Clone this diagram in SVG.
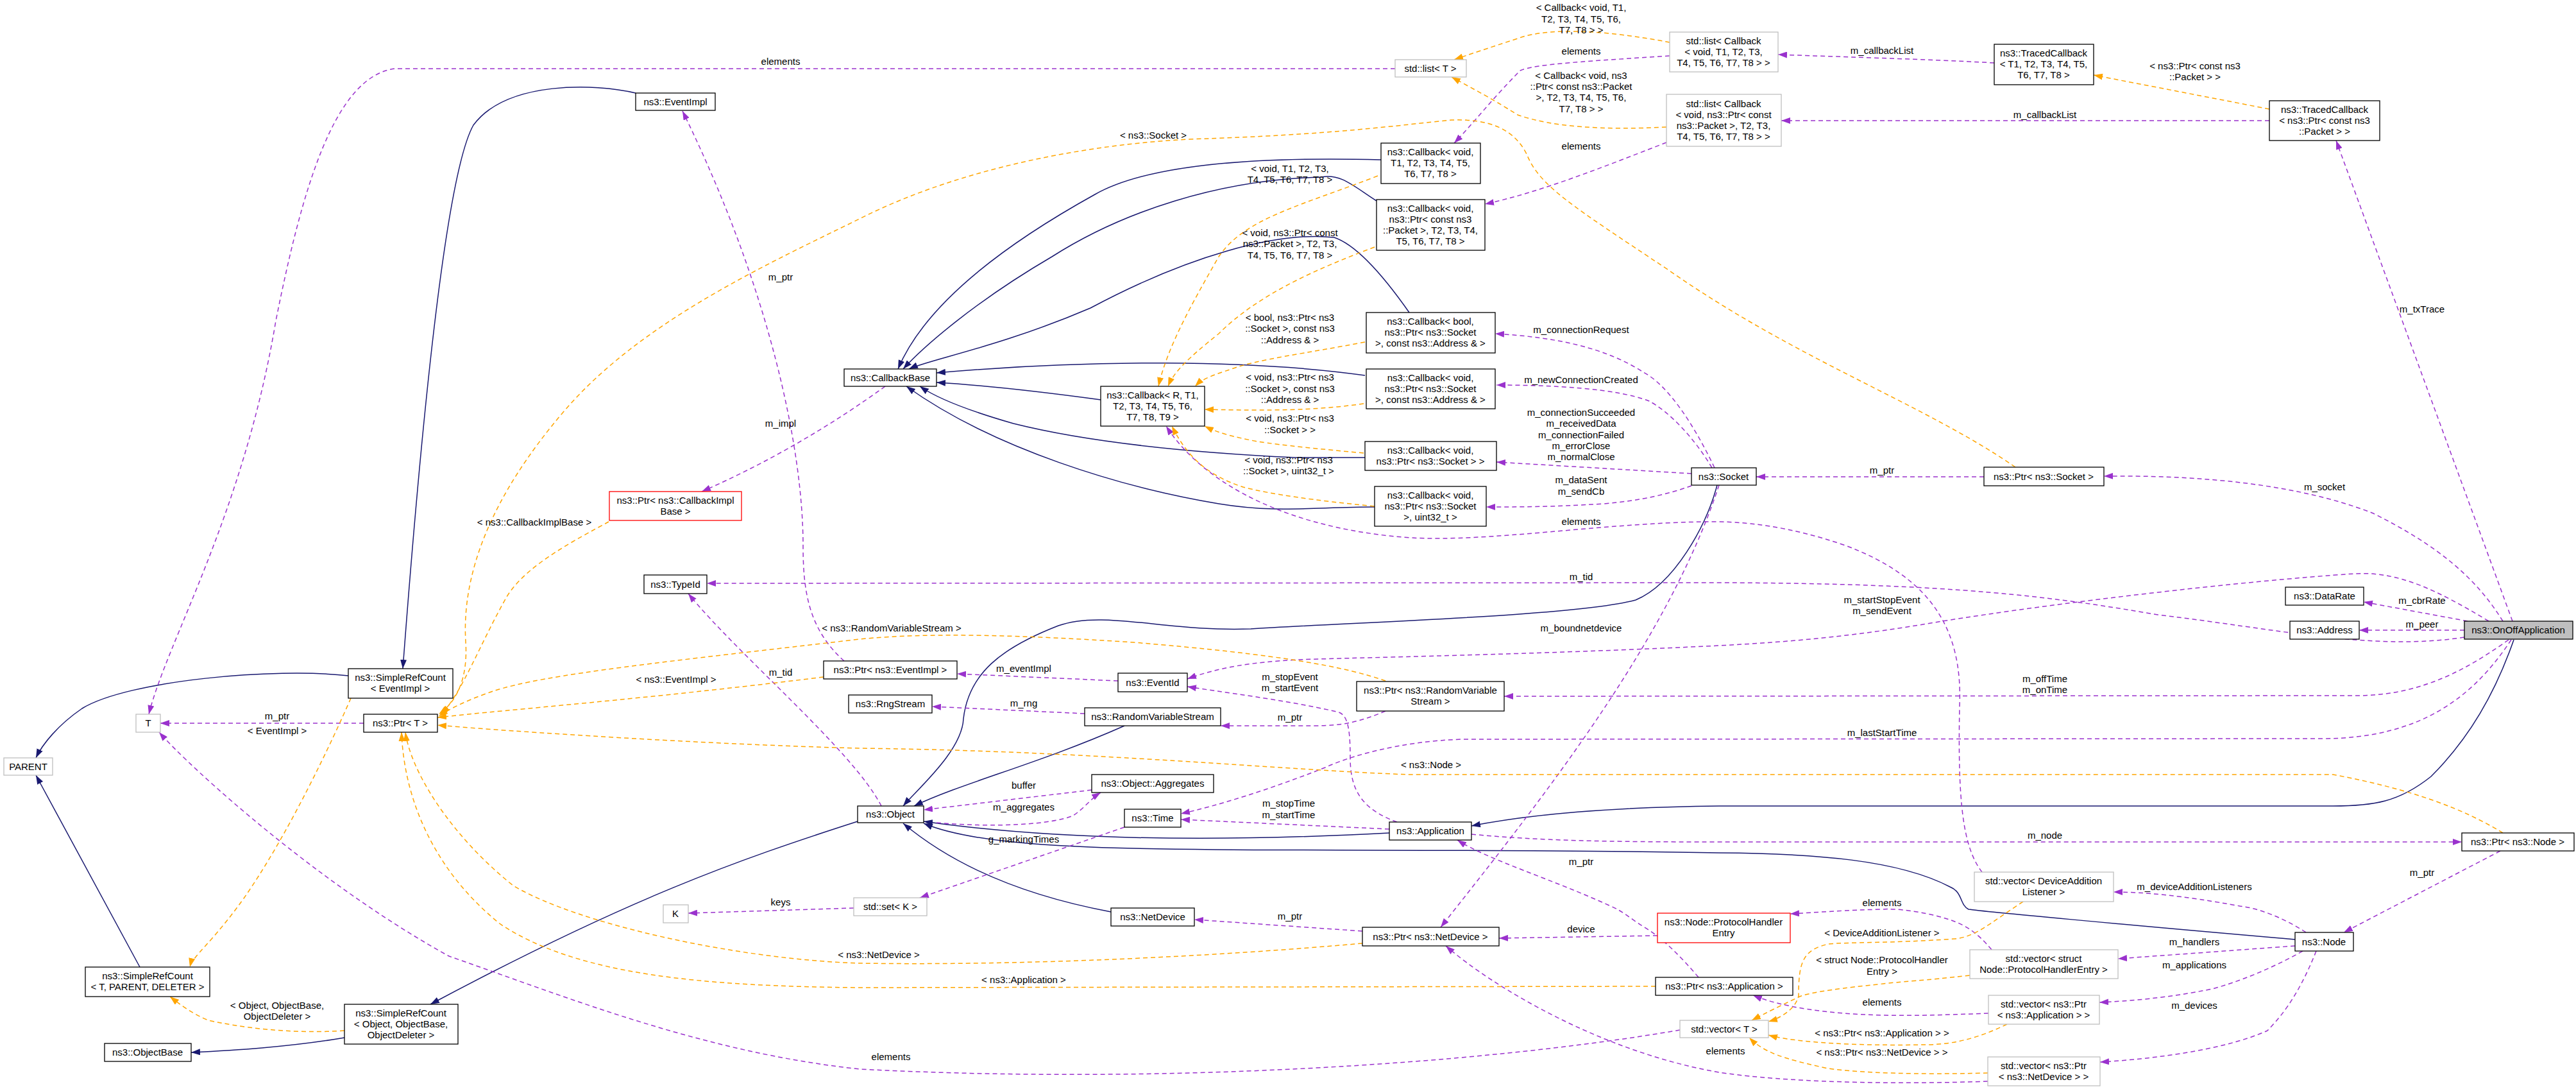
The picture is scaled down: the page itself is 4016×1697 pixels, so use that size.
<svg xmlns="http://www.w3.org/2000/svg" width="4016" height="1697" viewBox="0 0 4016 1697">
<defs>
<style>
text{font-family:"Liberation Sans",Arial,sans-serif;font-size:15px;fill:#000;text-anchor:middle}
.n rect{fill:#fff;stroke:#000;stroke-width:1.3}
.g rect{fill:#fff;stroke:#bfbfbf;stroke-width:1.3}
.r rect{fill:#fff;stroke:#ff0000;stroke-width:1.3}
.f rect{fill:#bfbfbf;stroke:#000;stroke-width:1.3}
.inh{fill:none;stroke:#191970;stroke-width:1.5;marker-end:url(#ab)}
.use{fill:none;stroke:#9a32cd;stroke-width:1.5;stroke-dasharray:7,5;marker-end:url(#ap)}
.tpl{fill:none;stroke:#ffa500;stroke-width:1.5;stroke-dasharray:7,5;marker-end:url(#ao)}
</style>
<marker id="ab" markerUnits="userSpaceOnUse" markerWidth="14" markerHeight="10" refX="14" refY="5" orient="auto"><path d="M0,0L14,5L0,10z" fill="#191970"/></marker>
<marker id="ap" markerUnits="userSpaceOnUse" markerWidth="14" markerHeight="10" refX="14" refY="5" orient="auto"><path d="M0,0L14,5L0,10z" fill="#9a32cd"/></marker>
<marker id="ao" markerUnits="userSpaceOnUse" markerWidth="14" markerHeight="10" refX="14" refY="5" orient="auto"><path d="M0,0L14,5L0,10z" fill="#ffa500"/></marker>
</defs>
<rect width="4016" height="1697" fill="#fff"/>
<g id="connectors">
<path class="inh" d="M991,145 C930,130 790,125 738,195 C690,280 650,750 628,1042"/>
<path class="inh" d="M543,1053 C430,1040 200,1060 128,1104 C90,1130 66,1160 56,1181"/>
<path class="inh" d="M218,1507 L56,1208"/>
<path class="inh" d="M537,1617 C450,1632 360,1637 298,1640"/>
<path class="inh" d="M1337,1280 C1150,1340 980,1400 671,1565"/>
<path class="inh" d="M2153,249 C2000,245 1800,250 1707,303 C1550,390 1440,480 1400,575"/>
<path class="inh" d="M2146,313 C2110,290 2090,270 2060,276 C1900,280 1750,330 1640,400 C1520,470 1440,540 1408,575"/>
<path class="inh" d="M2197,487 C2150,420 2110,380 2080,370 C1990,360 1850,400 1700,480 C1560,540 1450,560 1417,575"/>
<path class="inh" d="M2128,585 C1950,560 1700,560 1460,581"/>
<path class="inh" d="M1716,623 C1620,610 1530,600 1460,596"/>
<path class="inh" d="M2128,713 L2020,713 C1850,705 1700,690 1580,660 C1510,640 1460,620 1434,602"/>
<path class="inh" d="M2143,790 C2050,790 1990,800 1900,785 C1750,760 1550,700 1413,602"/>
<path class="inh" d="M2677,756 C2660,820 2610,910 2550,935 C2460,960 2100,970 1950,980 C1820,985 1720,950 1650,975 C1560,1010 1510,1050 1502,1120 C1500,1170 1430,1230 1408,1256"/>
<path class="inh" d="M1753,1131 C1620,1190 1500,1220 1425,1256"/>
<path class="inh" d="M2166,1298 C1900,1312 1650,1310 1440,1280"/>
<path class="inh" d="M3578,1464 C3300,1440 3090,1420 3069,1417 C3055,1410 3060,1390 3040,1382 C2960,1340 2830,1330 2680,1329 C2300,1322 1900,1328 1700,1320 C1560,1315 1480,1300 1440,1283"/>
<path class="inh" d="M1732,1421 C1620,1400 1500,1360 1408,1283"/>
<path class="inh" d="M3919,997 C3890,1080 3850,1150 3790,1210 C3740,1250 3700,1256 3637,1256 L2680,1256 C2500,1258 2380,1270 2294,1287"/>

<path class="use" d="M2175,107 L615,107 C520,120 470,300 430,500 C380,800 260,1000 232,1113"/>
<path class="use" d="M2603,87 C2480,95 2390,100 2370,110 C2330,150 2290,200 2267,223"/>
<path class="use" d="M2598,222 C2500,260 2400,300 2315,318"/>
<path class="use" d="M3109,98 C3000,92 2850,88 2772,85"/>
<path class="use" d="M3538,188 L2777,188"/>
<path class="use" d="M3917,968 L3642,219"/>
<path class="use" d="M3902,968 C3860,900 3800,850 3700,800 C3560,745 3380,741 3280,742"/>
<path class="use" d="M3093,743 L2738,743"/>
<path class="use" d="M2673,729 C2640,660 2600,600 2562,580 C2500,540 2420,525 2331,520"/>
<path class="use" d="M2669,729 C2640,680 2600,640 2571,625 C2520,605 2420,600 2333,600"/>
<path class="use" d="M2637,738 L2333,720"/>
<path class="use" d="M2637,757 C2600,770 2560,780 2500,785 C2420,790 2370,790 2317,790"/>
<path class="use" d="M2680,756 C2600,1000 2400,1250 2246,1445"/>
<path class="use" d="M3090,1359 C3060,1320 3052,1250 3055,1100 C3060,980 3010,900 2877,850 C2790,820 2720,812 2660,813 C2500,815 2320,845 2200,838 C2020,826 1880,760 1818,664"/>
<path class="use" d="M3842,993 C3700,1015 3550,980 3364,958 C3200,930 3050,909 2680,908 L1102,909"/>
<path class="use" d="M3880,968 C3800,920 3740,890 3671,894 C3500,905 3200,940 3022,969 C2900,990 2800,1000 2680,1006 C2400,1020 2100,1025 2024,1028 C1950,1032 1900,1040 1851,1058"/>
<path class="use" d="M3911,997 C3850,1040 3780,1082 3680,1084 L2345,1085"/>
<path class="use" d="M3915,997 C3860,1080 3780,1151 3620,1151 L2280,1152 C2180,1155 2100,1180 2066,1196 C1980,1230 1900,1255 1841,1268"/>
<path class="use" d="M3847,968 L3685,938"/>
<path class="use" d="M3842,982 L3678,982"/>
<path class="use" d="M2294,1300 C2400,1310 2500,1312 2680,1312 L3838,1312"/>
<path class="use" d="M3898,1326 L3654,1453"/>
<path class="use" d="M3595,1453 C3560,1430 3520,1415 3492,1412 C3400,1395 3340,1390 3295,1390"/>
<path class="use" d="M3578,1474 L3302,1494"/>
<path class="use" d="M3590,1482 C3540,1510 3490,1530 3449,1541 C3380,1555 3320,1560 3273,1562"/>
<path class="use" d="M3611,1482 C3580,1560 3550,1590 3535,1606 C3460,1640 3330,1652 3274,1655"/>
<path class="use" d="M3105,1480 C3080,1450 3060,1440 3039,1433 C3000,1420 2950,1415 2936,1417 C2880,1418 2830,1422 2791,1424"/>
<path class="use" d="M3100,1579 C3020,1582 2980,1583 2936,1582 C2850,1580 2780,1570 2733,1551"/>
<path class="use" d="M2584,1458 L2337,1462"/>
<path class="use" d="M2648,1523 C2620,1490 2590,1460 2562,1444 C2540,1430 2530,1420 2511,1412 C2420,1370 2320,1340 2272,1309"/>
<path class="use" d="M2124,1451 L1862,1433"/>
<path class="use" d="M3099,1685 C2900,1692 2750,1682 2680,1671 C2500,1640 2330,1540 2254,1474"/>
<path class="use" d="M2619,1605 C2300,1660 1800,1690 1340,1666 C1100,1640 900,1560 700,1490 C500,1380 300,1200 248,1141"/>
<path class="use" d="M567,1127 L250,1127"/>
<path class="use" d="M1380,602 C1300,660 1200,720 1094,766"/>
<path class="use" d="M1316,1030 C1260,980 1252,920 1252,850 C1252,700 1200,450 1064,173"/>
<path class="use" d="M1743,1061 L1492,1050"/>
<path class="use" d="M1691,1112 L1453,1101"/>
<path class="use" d="M2160,1108 C2120,1125 2092,1131 2050,1131 L1903,1131"/>
<path class="use" d="M2178,1281 C2120,1260 2105,1228 2105,1180 C2105,1131 2100,1112 2084,1109 C2000,1090 1900,1078 1851,1070"/>
<path class="use" d="M2166,1292 L1841,1277"/>
<path class="use" d="M1460,1282 C1550,1290 1640,1285 1673,1271 C1690,1260 1700,1245 1716,1235"/>
<path class="use" d="M1702,1231 L1440,1262"/>
<path class="use" d="M1753,1289 L1434,1399"/>
<path class="use" d="M1331,1415 L1073,1423"/>
<path class="use" d="M1374,1256 C1330,1170 1150,1020 1073,925"/>

<path class="tpl" d="M2603,66 C2520,50 2420,40 2366,60 C2320,75 2290,85 2267,93"/>
<path class="tpl" d="M2598,198 C2500,203 2420,198 2366,179 C2320,150 2290,135 2263,120"/>
<path class="tpl" d="M3538,170 L3264,117"/>
<path class="tpl" d="M3142,728 C3000,630 2800,560 2600,420 C2450,320 2400,290 2380,240 C2360,200 2320,185 2263,187 C2180,195 2080,210 1853,217 C1700,225 1500,260 1340,341 C1200,410 1000,500 880,640 C760,780 720,900 726,1000 C730,1060 710,1095 684,1113"/>
<path class="tpl" d="M949,813 C900,840 820,880 790,930 C750,1000 720,1080 688,1113"/>
<path class="tpl" d="M2160,1061 C2100,1040 2000,1020 1767,1001 C1600,990 1450,985 1340,996 C1050,1030 850,1050 769,1077 C730,1090 700,1105 684,1116"/>
<path class="tpl" d="M1284,1055 C1000,1090 800,1105 682,1118"/>
<path class="tpl" d="M3902,1298 C3840,1260 3760,1230 3637,1207 L2195,1207 C2000,1200 1700,1170 1340,1166 C1100,1160 800,1140 682,1130"/>
<path class="tpl" d="M2124,1470 C1900,1490 1600,1505 1340,1501 C1150,1495 900,1440 800,1380 C700,1300 640,1200 632,1141"/>
<path class="tpl" d="M2581,1537 L1340,1539 C1100,1537 900,1520 780,1440 C680,1360 630,1250 626,1141"/>
<path class="tpl" d="M537,1606 C450,1612 370,1600 325,1590 C300,1580 280,1565 265,1553"/>
<path class="tpl" d="M3154,1405 C3100,1440 3080,1460 3047,1463 C2950,1470 2880,1468 2851,1471 C2810,1480 2804,1500 2804,1552 C2800,1570 2780,1585 2757,1592"/>
<path class="tpl" d="M3071,1520 C3000,1528 2960,1530 2936,1533 C2870,1540 2830,1545 2808,1552 C2780,1565 2750,1580 2731,1590"/>
<path class="tpl" d="M3129,1596 C3080,1620 3040,1628 3000,1628 C2900,1630 2800,1625 2757,1613"/>
<path class="tpl" d="M3099,1672 C2990,1675 2900,1672 2850,1665 C2780,1650 2750,1640 2727,1617"/>
<path class="tpl" d="M2148,274 C2030,320 1940,340 1900,400 C1860,470 1820,540 1806,602"/>
<path class="tpl" d="M2143,385 C2050,420 1960,460 1900,520 C1850,560 1830,580 1821,602"/>
<path class="tpl" d="M2128,533 C2040,550 1960,560 1920,575 C1890,585 1875,590 1863,602"/>
<path class="tpl" d="M2126,629 C2050,640 1980,640 1878,638"/>
<path class="tpl" d="M2126,706 C2060,700 2000,694 1960,688 C1920,680 1900,675 1878,664"/>
<path class="tpl" d="M2143,789 C2050,780 1980,770 1938,759 C1880,740 1850,710 1827,664"/>
<path class="tpl" d="M547,1088 C520,1150 450,1300 380,1400 C330,1470 300,1490 296,1507"/>

<g id="labels">
<text x="1217" y="101">elements</text>
<text x="2465" y="85">elements</text>
<text x="2465" y="233">elements</text>
<text x="2934" y="84">m_callbackList</text>
<text x="3188" y="184">m_callbackList</text>
<text x="3776" y="487">m_txTrace</text>
<text x="3624" y="764">m_socket</text>
<text x="2934" y="738">m_ptr</text>
<text x="2465" y="519">m_connectionRequest</text>
<text x="2465" y="597">m_newConnectionCreated</text>
<text x="2465" y="648">m_connectionSucceeded</text>
<text x="2465" y="665">m_receivedData</text>
<text x="2465" y="683">m_connectionFailed</text>
<text x="2465" y="700">m_errorClose</text>
<text x="2465" y="717">m_normalClose</text>
<text x="2465" y="753">m_dataSent</text>
<text x="2465" y="771">m_sendCb</text>
<text x="2465" y="818">elements</text>
<text x="2465" y="904">m_tid</text>
<text x="2465" y="984">m_boundnetdevice</text>
<text x="2934" y="940">m_startStopEvent</text>
<text x="2934" y="957">m_sendEvent</text>
<text x="3776" y="941">m_cbrRate</text>
<text x="3776" y="978">m_peer</text>
<text x="3188" y="1063">m_offTime</text>
<text x="3188" y="1080">m_onTime</text>
<text x="2934" y="1147">m_lastStartTime</text>
<text x="3188" y="1307">m_node</text>
<text x="3776" y="1365">m_ptr</text>
<text x="3421" y="1387">m_deviceAdditionListeners</text>
<text x="3421" y="1473">m_handlers</text>
<text x="3421" y="1509">m_applications</text>
<text x="3421" y="1572">m_devices</text>
<text x="2934" y="1412">elements</text>
<text x="2934" y="1567">elements</text>
<text x="2465" y="1453">device</text>
<text x="2465" y="1348">m_ptr</text>
<text x="2011" y="1433">m_ptr</text>
<text x="2690" y="1643">elements</text>
<text x="1389" y="1652">elements</text>
<text x="432" y="1121">m_ptr</text>
<text x="1217" y="665">m_impl</text>
<text x="1217" y="437">m_ptr</text>
<text x="1596" y="1047">m_eventImpl</text>
<text x="1596" y="1101">m_rng</text>
<text x="2011" y="1123">m_ptr</text>
<text x="2011" y="1060">m_stopEvent</text>
<text x="2011" y="1077">m_startEvent</text>
<text x="2009" y="1257">m_stopTime</text>
<text x="2009" y="1275">m_startTime</text>
<text x="1596" y="1263">m_aggregates</text>
<text x="1596" y="1229">buffer</text>
<text x="1596" y="1313">g_markingTimes</text>
<text x="1217" y="1411">keys</text>
<text x="1217" y="1053">m_tid</text>
<text x="2465" y="17">&lt; Callback&lt; void, T1,</text>
<text x="2465" y="35">T2, T3, T4, T5, T6,</text>
<text x="2465" y="52">T7, T8 &gt; &gt;</text>
<text x="2465" y="123">&lt; Callback&lt; void, ns3</text>
<text x="2465" y="140">::Ptr&lt; const ns3::Packet</text>
<text x="2465" y="157">&gt;, T2, T3, T4, T5, T6,</text>
<text x="2465" y="175">T7, T8 &gt; &gt;</text>
<text x="3422" y="108">&lt; ns3::Ptr&lt; const ns3</text>
<text x="3422" y="125">::Packet &gt; &gt;</text>
<text x="1798" y="216">&lt; ns3::Socket &gt;</text>
<text x="833" y="819">&lt; ns3::CallbackImplBase &gt;</text>
<text x="1390" y="984">&lt; ns3::RandomVariableStream &gt;</text>
<text x="1054" y="1064">&lt; ns3::EventImpl &gt;</text>
<text x="2231" y="1197">&lt; ns3::Node &gt;</text>
<text x="1370" y="1493">&lt; ns3::NetDevice &gt;</text>
<text x="1596" y="1532">&lt; ns3::Application &gt;</text>
<text x="432" y="1572">&lt; Object, ObjectBase,</text>
<text x="432" y="1589">ObjectDeleter &gt;</text>
<text x="2934" y="1459">&lt; DeviceAdditionListener &gt;</text>
<text x="2934" y="1501">&lt; struct Node::ProtocolHandler</text>
<text x="2934" y="1519">Entry &gt;</text>
<text x="2934" y="1615">&lt; ns3::Ptr&lt; ns3::Application &gt; &gt;</text>
<text x="2934" y="1645">&lt; ns3::Ptr&lt; ns3::NetDevice &gt; &gt;</text>
<text x="2011" y="268">&lt; void, T1, T2, T3,</text>
<text x="2011" y="285">T4, T5, T6, T7, T8 &gt;</text>
<text x="2011" y="368">&lt; void, ns3::Ptr&lt; const</text>
<text x="2011" y="385">ns3::Packet &gt;, T2, T3,</text>
<text x="2011" y="403">T4, T5, T6, T7, T8 &gt;</text>
<text x="2011" y="500">&lt; bool, ns3::Ptr&lt; ns3</text>
<text x="2011" y="517">::Socket &gt;, const ns3</text>
<text x="2011" y="535">::Address &amp; &gt;</text>
<text x="2011" y="593">&lt; void, ns3::Ptr&lt; ns3</text>
<text x="2011" y="611">::Socket &gt;, const ns3</text>
<text x="2011" y="628">::Address &amp; &gt;</text>
<text x="2011" y="657">&lt; void, ns3::Ptr&lt; ns3</text>
<text x="2011" y="675">::Socket &gt; &gt;</text>
<text x="2009" y="722">&lt; void, ns3::Ptr&lt; ns3</text>
<text x="2009" y="739">::Socket &gt;, uint32_t &gt;</text>
<text x="432" y="1144">&lt; EventImpl &gt;</text>
</g>
</g>

<g id="EventImpl" class="n"><rect x="991" y="145" width="124" height="27"/><text x="1053" y="164">ns3::EventImpl</text></g>
<g id="PtrCallbackImplBase" class="r"><rect x="950" y="766" width="206" height="45"/><text x="1053" y="785">ns3::Ptr&lt; ns3::CallbackImpl</text><text x="1053" y="802">Base &gt;</text></g>
<g id="CallbackBase" class="n"><rect x="1316" y="575" width="144" height="27"/><text x="1388" y="594">ns3::CallbackBase</text></g>
<g id="TypeId" class="n"><rect x="1004" y="896" width="98" height="29"/><text x="1053" y="916">ns3::TypeId</text></g>
<g id="SimpleRefCountEventImpl" class="n"><rect x="543" y="1042" width="163" height="46"/><text x="624" y="1061">ns3::SimpleRefCount</text><text x="624" y="1078">&lt; EventImpl &gt;</text></g>
<g id="T" class="g"><rect x="212" y="1113" width="38" height="28"/><text x="231" y="1132">T</text></g>
<g id="PtrT" class="n"><rect x="567" y="1113" width="115" height="28"/><text x="624" y="1132">ns3::Ptr&lt; T &gt;</text></g>
<g id="PARENT" class="g"><rect x="6" y="1181" width="76" height="27"/><text x="44" y="1200">PARENT</text></g>
<g id="K" class="g"><rect x="1034" y="1410" width="39" height="28"/><text x="1053" y="1429">K</text></g>
<g id="SimpleRefCountTPD" class="n"><rect x="133" y="1507" width="194" height="46"/><text x="230" y="1526">ns3::SimpleRefCount</text><text x="230" y="1543">&lt; T, PARENT, DELETER &gt;</text></g>
<g id="SimpleRefCountObject" class="n"><rect x="537" y="1565" width="177" height="62"/><text x="625" y="1584">ns3::SimpleRefCount</text><text x="625" y="1601">&lt; Object, ObjectBase,</text><text x="625" y="1618">ObjectDeleter &gt;</text></g>
<g id="ObjectBase" class="n"><rect x="163" y="1626" width="135" height="28"/><text x="230" y="1645">ns3::ObjectBase</text></g>
<g id="listT" class="g"><rect x="2175" y="93" width="111" height="27"/><text x="2230" y="112">std::list&lt; T &gt;</text></g>
<g id="listCallbackT" class="g"><rect x="2603" y="50" width="169" height="62"/><text x="2687" y="69">std::list&lt; Callback</text><text x="2687" y="86">&lt; void, T1, T2, T3,</text><text x="2687" y="103">T4, T5, T6, T7, T8 &gt; &gt;</text></g>
<g id="listCallbackPkt" class="g"><rect x="2598" y="147" width="179" height="81"/><text x="2687" y="167">std::list&lt; Callback</text><text x="2687" y="184">&lt; void, ns3::Ptr&lt; const</text><text x="2687" y="201">ns3::Packet &gt;, T2, T3,</text><text x="2687" y="218">T4, T5, T6, T7, T8 &gt; &gt;</text></g>
<g id="CallbackVoidT" class="n"><rect x="2153" y="223" width="155" height="63"/><text x="2230" y="242">ns3::Callback&lt; void,</text><text x="2230" y="259">T1, T2, T3, T4, T5,</text><text x="2230" y="276">T6, T7, T8 &gt;</text></g>
<g id="CallbackVoidPkt" class="n"><rect x="2146" y="311" width="169" height="79"/><text x="2230" y="330">ns3::Callback&lt; void,</text><text x="2230" y="347">ns3::Ptr&lt; const ns3</text><text x="2230" y="364">::Packet &gt;, T2, T3, T4,</text><text x="2230" y="381">T5, T6, T7, T8 &gt;</text></g>
<g id="CallbackBool" class="n"><rect x="2130" y="487" width="201" height="63"/><text x="2230" y="506">ns3::Callback&lt; bool,</text><text x="2230" y="523">ns3::Ptr&lt; ns3::Socket</text><text x="2230" y="540">&gt;, const ns3::Address &amp; &gt;</text></g>
<g id="CallbackVoidSocketAddr" class="n"><rect x="2130" y="575" width="201" height="62"/><text x="2230" y="594">ns3::Callback&lt; void,</text><text x="2230" y="611">ns3::Ptr&lt; ns3::Socket</text><text x="2230" y="628">&gt;, const ns3::Address &amp; &gt;</text></g>
<g id="CallbackR" class="n"><rect x="1716" y="602" width="162" height="62"/><text x="1797" y="621">ns3::Callback&lt; R, T1,</text><text x="1797" y="638">T2, T3, T4, T5, T6,</text><text x="1797" y="655">T7, T8, T9 &gt;</text></g>
<g id="CallbackVoidSocket" class="n"><rect x="2128" y="688" width="205" height="45"/><text x="2230" y="707">ns3::Callback&lt; void,</text><text x="2230" y="724">ns3::Ptr&lt; ns3::Socket &gt; &gt;</text></g>
<g id="CallbackVoidSocketU" class="n"><rect x="2143" y="758" width="174" height="62"/><text x="2230" y="777">ns3::Callback&lt; void,</text><text x="2230" y="794">ns3::Ptr&lt; ns3::Socket</text><text x="2230" y="811">&gt;, uint32_t &gt;</text></g>
<g id="Socket" class="n"><rect x="2637" y="729" width="101" height="27"/><text x="2687" y="748">ns3::Socket</text></g>
<g id="PtrEventImpl" class="n"><rect x="1284" y="1030" width="208" height="28"/><text x="1388" y="1049">ns3::Ptr&lt; ns3::EventImpl &gt;</text></g>
<g id="RngStream" class="n"><rect x="1323" y="1083" width="130" height="28"/><text x="1388" y="1102">ns3::RngStream</text></g>
<g id="EventId" class="n"><rect x="1743" y="1049" width="108" height="29"/><text x="1797" y="1069">ns3::EventId</text></g>
<g id="RandomVariableStream" class="n"><rect x="1691" y="1103" width="212" height="28"/><text x="1797" y="1122">ns3::RandomVariableStream</text></g>
<g id="PtrRandomVariableStream" class="n"><rect x="2115" y="1062" width="230" height="46"/><text x="2230" y="1081">ns3::Ptr&lt; ns3::RandomVariable</text><text x="2230" y="1098">Stream &gt;</text></g>
<g id="Object" class="n"><rect x="1337" y="1256" width="103" height="26"/><text x="1388" y="1274">ns3::Object</text></g>
<g id="ObjectAggregates" class="n"><rect x="1702" y="1207" width="190" height="28"/><text x="1797" y="1226">ns3::Object::Aggregates</text></g>
<g id="Time" class="n"><rect x="1753" y="1261" width="88" height="28"/><text x="1797" y="1280">ns3::Time</text></g>
<g id="Application" class="n"><rect x="2166" y="1281" width="128" height="28"/><text x="2230" y="1300">ns3::Application</text></g>
<g id="setK" class="g"><rect x="1331" y="1399" width="114" height="28"/><text x="1388" y="1418">std::set&lt; K &gt;</text></g>
<g id="NetDevice" class="n"><rect x="1732" y="1415" width="130" height="28"/><text x="1797" y="1434">ns3::NetDevice</text></g>
<g id="PtrNetDevice" class="n"><rect x="2124" y="1445" width="213" height="29"/><text x="2230" y="1465">ns3::Ptr&lt; ns3::NetDevice &gt;</text></g>
<g id="ProtocolHandlerEntry" class="r"><rect x="2584" y="1423" width="207" height="46"/><text x="2687" y="1442">ns3::Node::ProtocolHandler</text><text x="2687" y="1459">Entry</text></g>
<g id="PtrApplication" class="n"><rect x="2581" y="1523" width="214" height="28"/><text x="2688" y="1542">ns3::Ptr&lt; ns3::Application &gt;</text></g>
<g id="vectorT" class="g"><rect x="2619" y="1590" width="138" height="27"/><text x="2688" y="1609">std::vector&lt; T &gt;</text></g>
<g id="TracedCallbackT" class="n"><rect x="3109" y="69" width="155" height="63"/><text x="3186" y="88">ns3::TracedCallback</text><text x="3186" y="105">&lt; T1, T2, T3, T4, T5,</text><text x="3186" y="122">T6, T7, T8 &gt;</text></g>
<g id="TracedCallbackPkt" class="n"><rect x="3538" y="157" width="172" height="62"/><text x="3624" y="176">ns3::TracedCallback</text><text x="3624" y="193">&lt; ns3::Ptr&lt; const ns3</text><text x="3624" y="210">::Packet &gt; &gt;</text></g>
<g id="PtrSocket" class="n"><rect x="3093" y="728" width="187" height="29"/><text x="3186" y="748">ns3::Ptr&lt; ns3::Socket &gt;</text></g>
<g id="DataRate" class="n"><rect x="3563" y="915" width="122" height="28"/><text x="3624" y="934">ns3::DataRate</text></g>
<g id="Address" class="n"><rect x="3570" y="968" width="108" height="28"/><text x="3624" y="987">ns3::Address</text></g>
<g id="OnOffApplication" class="f"><rect x="3842" y="968" width="169" height="28"/><text x="3926" y="987">ns3::OnOffApplication</text></g>
<g id="PtrNode" class="n"><rect x="3838" y="1298" width="175" height="28"/><text x="3925" y="1317">ns3::Ptr&lt; ns3::Node &gt;</text></g>
<g id="vectorDeviceAdditionListener" class="g"><rect x="3078" y="1359" width="217" height="46"/><text x="3186" y="1378">std::vector&lt; DeviceAddition</text><text x="3186" y="1395">Listener &gt;</text></g>
<g id="Node" class="n"><rect x="3578" y="1453" width="91" height="29"/><text x="3623" y="1473">ns3::Node</text></g>
<g id="vectorProtocolHandlerEntry" class="g"><rect x="3071" y="1480" width="231" height="45"/><text x="3186" y="1499">std::vector&lt; struct</text><text x="3186" y="1516">Node::ProtocolHandlerEntry &gt;</text></g>
<g id="vectorPtrApplication" class="g"><rect x="3100" y="1551" width="173" height="45"/><text x="3186" y="1570">std::vector&lt; ns3::Ptr</text><text x="3186" y="1587">&lt; ns3::Application &gt; &gt;</text></g>
<g id="vectorPtrNetDevice" class="g"><rect x="3099" y="1647" width="175" height="45"/><text x="3186" y="1666">std::vector&lt; ns3::Ptr</text><text x="3186" y="1683">&lt; ns3::NetDevice &gt; &gt;</text></g>
</svg>
